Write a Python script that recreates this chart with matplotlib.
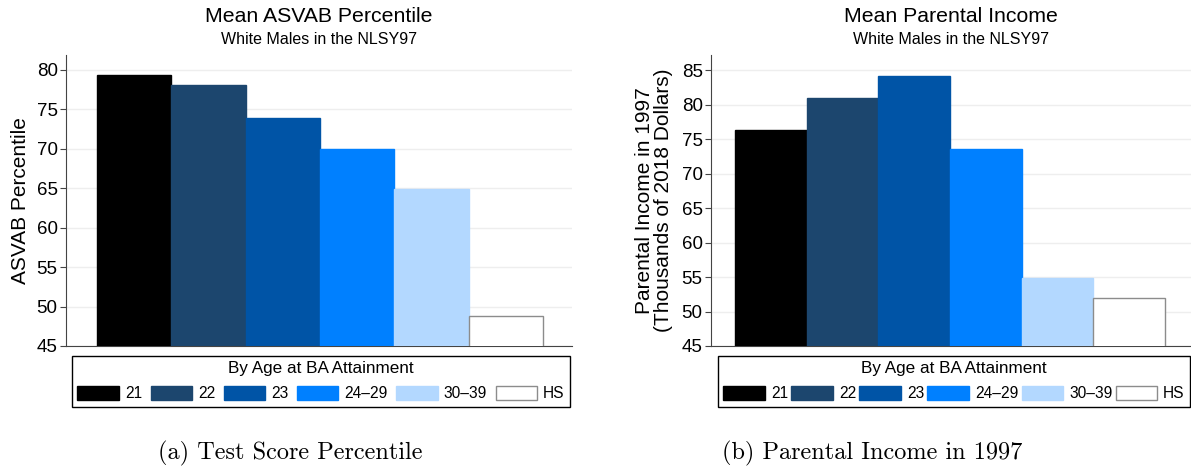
import matplotlib.pyplot as plt
from matplotlib.patches import Patch

# groups by age at BA attainment
groups = ['21', '22', '23', '24\u201329', '30\u201339', 'HS']
colors = ['#000000', '#1c466e', '#0054a6', '#0080ff', '#b3d8ff', '#ffffff']
edges = ['#000000', '#1c466e', '#0054a6', '#0080ff', '#b3d8ff', '#8c8c8c']

asvab = [79.4, 78.1, 73.9, 70.0, 64.9, 48.8]
parent_inc = [76.3, 80.9, 84.1, 73.5, 54.9, 51.9]

asvab_ticks = [45, 50, 55, 60, 65, 70, 75, 80]
inc_ticks = [45, 50, 55, 60, 65, 70, 75, 80, 85]

plt.rcParams['font.family'] = ['Liberation Sans', 'DejaVu Sans']

fig = plt.figure(figsize=(11.91, 4.70), dpi=100)
W, H = 1191, 470


def panel(rect, vals, ticks, ylim, xlim, title, ylabel, ylpad, leg_rect, caption, cap_x):
    x0, y0, x1, y1 = rect
    ax = fig.add_axes([x0 / W, 1 - y1 / H, (x1 - x0) / W, (y1 - y0) / H])
    ax.bar(range(len(vals)), vals, width=1.0, color=colors, edgecolor=edges,
           linewidth=1.0, zorder=3)
    ax.set_ylim(*ylim)
    ax.set_xlim(*xlim)
    ax.set_yticks(ticks)
    ax.set_xticks([])
    ax.tick_params(axis='y', labelsize=13.5, length=4.5, color='#444444', pad=1.5)
    ax.grid(axis='y', color='#eeeeee', linewidth=1.0, zorder=0)
    for s in ['top', 'right']:
        ax.spines[s].set_visible(False)
    ax.spines['left'].set_color('#444444')
    ax.spines['bottom'].set_color('#444444')
    ax.set_ylabel(ylabel, fontsize=15, labelpad=ylpad, linespacing=1.0)
    ph = y1 - y0
    ax.text(0.5, 1 + (y0 - 17) / ph, title, transform=ax.transAxes,
            ha='center', va='center', fontsize=15.3)
    ax.text(0.5, 1 + (y0 - 40) / ph, 'White Males in the NLSY97', transform=ax.transAxes,
            ha='center', va='center', fontsize=11.5)

    handles = [Patch(facecolor=c, edgecolor=e, linewidth=1.0) for c, e in zip(colors, edges)]
    lx0, ly0, lx1, ly1 = leg_rect
    leg = fig.legend(handles, groups, ncol=6, loc='upper left',
                     bbox_to_anchor=(lx0 / W, 1 - ly1 / H, (lx1 - lx0) / W, (ly1 - ly0) / H),
                     mode='expand', title='By Age at BA Attainment', title_fontsize=12.3,
                     fontsize=11.2, fancybox=False, edgecolor='#000000', framealpha=1,
                     handlelength=2.65, handleheight=1.0, handletextpad=0.4,
                     columnspacing=0.4, borderpad=0.35, borderaxespad=0, labelspacing=0.6)
    leg.get_frame().set_linewidth(1.0)
    fig.text(cap_x / W, 1 - 453 / H, caption, ha='center', va='center',
             fontsize=17.5, family='cmr10')
    return ax


panel((66, 55, 572, 346), asvab, asvab_ticks, (45, 81.9), (-0.917, 5.89),
      'Mean ASVAB Percentile', 'ASVAB Percentile', 5, (72, 356, 570, 405),
      '(a) Test Score Percentile', 290)

panel((711, 55, 1191, 346), parent_inc, inc_ticks, (45, 87.2), (-0.835, 5.86),
      'Mean Parental Income', 'Parental Income in 1997\n(Thousands of 2018 Dollars)', 6,
      (718, 356, 1190, 405), '(b) Parental Income in 1997', 872)

fig.savefig('out.png', dpi=100)
